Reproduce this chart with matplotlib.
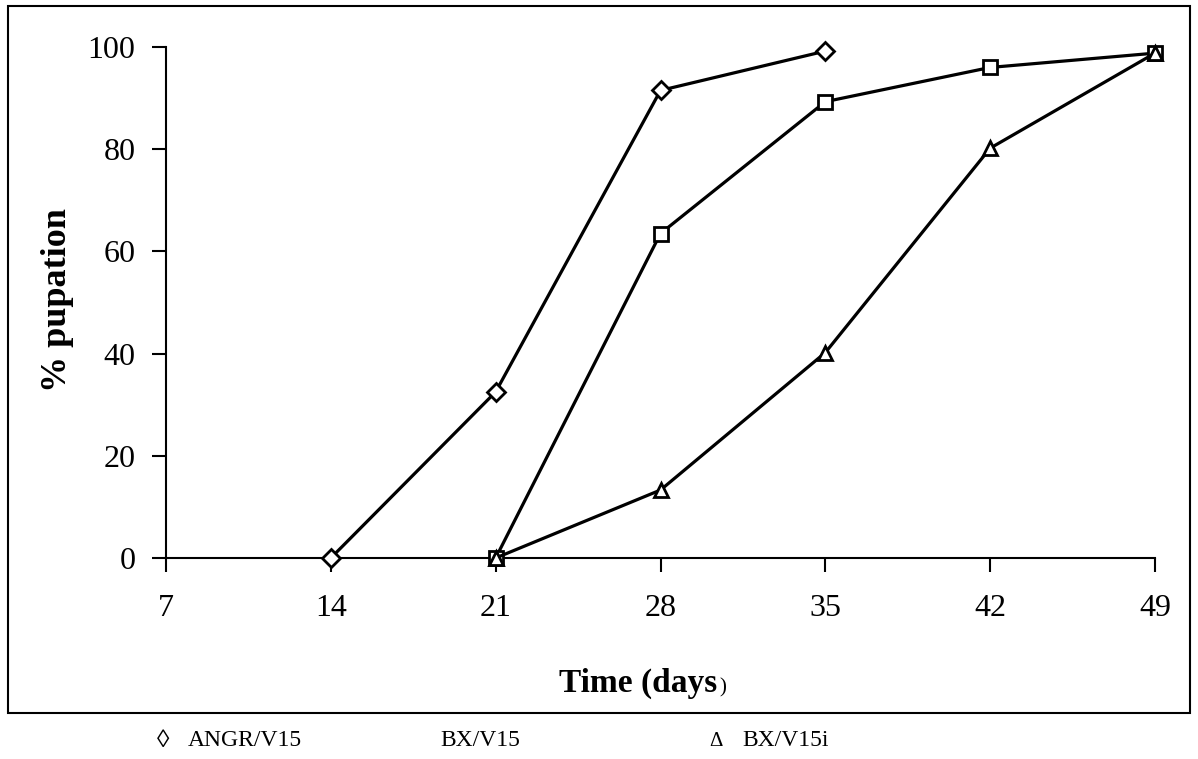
import matplotlib
matplotlib.use("Agg")
import matplotlib.pyplot as plt
from matplotlib.patches import Rectangle

plt.rcParams['font.family'] = ['Liberation Serif', 'DejaVu Serif']

days_angr = [14, 21, 28, 35]
pup_angr = [0, 32.5, 91.5, 99.2]
days_bx = [21, 28, 35, 42, 49]
pup_bx = [0, 63.5, 89.3, 96.0, 98.8]
days_bxi = [21, 28, 35, 42, 49]
pup_bxi = [0, 13.3, 40.2, 80.2, 98.8]
xticks = [7, 14, 21, 28, 35, 42, 49]
yticks = [0, 20, 40, 60, 80, 100]
labels = ["ANGR/V15", "BX/V15", "BX/V15i"]

W, H = 1198, 759
fig = plt.figure(figsize=(W / 100, H / 100), dpi=100)
fig.patch.set_facecolor('white')

ax = fig.add_axes([166 / W, 1 - 558 / H, (1155 - 166) / W, (558 - 47) / H])
ax.set_xlim(7, 49)
ax.set_ylim(0, 100)
for s in ['top', 'right']:
    ax.spines[s].set_visible(False)
for s in ['left', 'bottom']:
    ax.spines[s].set_linewidth(1.5)
    ax.spines[s].set_color('black')

mk = dict(color='black', lw=2.3, markerfacecolor='white', markeredgecolor='black',
          markeredgewidth=2.0, clip_on=False, zorder=3)
ax.plot(days_angr, pup_angr, marker='D', markersize=9.5, **mk)
ax.plot(days_bx, pup_bx, marker='s', markersize=10.5, **mk)
ax.plot(days_bxi, pup_bxi, marker='^', markersize=9.5, **mk)

ax.set_xticks(xticks)
ax.set_yticks(yticks)
ax.tick_params(axis='both', direction='out', length=10, width=1.5, labelsize=23, colors='black')
ax.tick_params(axis='x', pad=16)
ax.tick_params(axis='y', pad=12)

fig.text(58 / W, 1 - 300 / H, "% pupation", rotation=90, fontsize=26, fontweight='bold',
         ha='center', va='center')
fig.text(638 / W, 1 - 683 / H, "Time (days", fontsize=24, fontweight='bold',
         ha='center', va='center')
fig.text(719 / W, 1 - 688 / H, ")", fontsize=15, ha='left', va='center')

fig.add_artist(Rectangle((8 / W, 1 - 713 / H), (1190 - 8) / W, (713 - 6) / H,
                         transform=fig.transFigure, fill=False, edgecolor='black', lw=1.5))

ly = 1 - 741 / H
fig.text(163 / W, ly, "\u25CA", fontsize=18, ha='center', va='center')
fig.text(188 / W, ly, labels[0], fontsize=17, ha='left', va='center')
fig.text(440 / W, ly, labels[1], fontsize=17, ha='left', va='center')
fig.text(716 / W, ly, "\u0394", fontsize=15, ha='center', va='center')
fig.text(742 / W, ly, labels[2], fontsize=17, ha='left', va='center')

fig.savefig("out.png", dpi=100)
